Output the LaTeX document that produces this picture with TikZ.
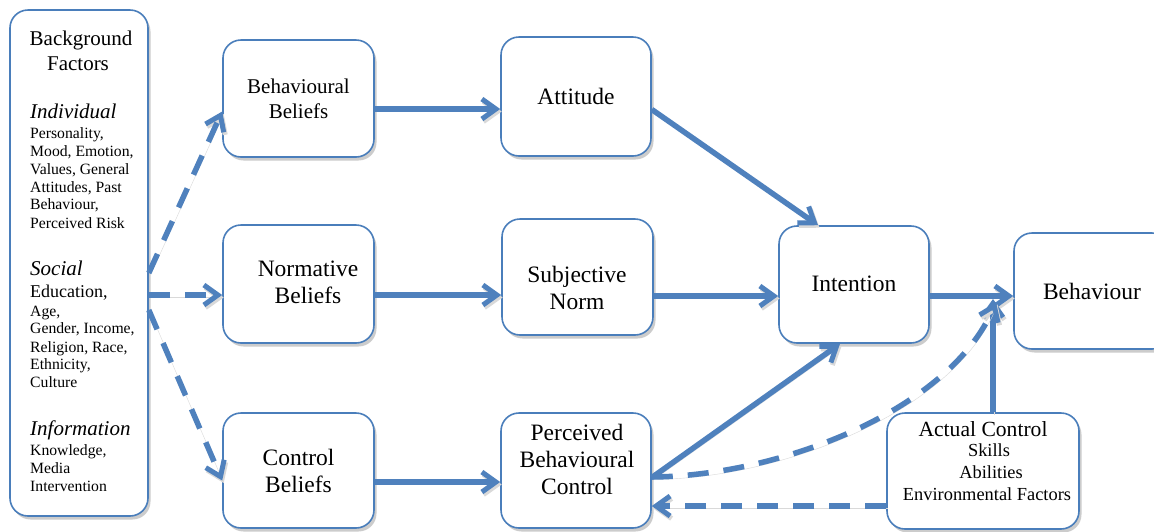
\documentclass[tikz,border=0pt]{standalone}
\usepackage{fontspec}
\setmainfont{Liberation Serif}
\usetikzlibrary{arrows.meta,shadows}
\definecolor{boxblue}{HTML}{4A7EBB}
\definecolor{arrblue}{HTML}{4F81BD}
\begin{document}
\begin{tikzpicture}[x=1pt,y=-1pt,
  box/.style={draw=boxblue, line width=1.6pt, rounded corners=18pt, fill=white,
    drop shadow={shadow xshift=2.5pt, shadow yshift=-3.5pt, fill=black!20, opacity=1},
    align=center, inner sep=0pt},
  big/.style={font=\fontsize{23.5}{27}\selectfont},
  mid/.style={font=\fontsize{21}{25}\selectfont},
  small/.style={font=\fontsize{15.7}{18}\selectfont},
  bgline/.style={anchor=base west, inner sep=0pt, small},
  conn/.style={draw=arrblue, line width=5.5pt,
    -{Straight Barb[length=14pt,width=20pt,line width=5pt]},
    preaction={draw=black!15, transform canvas={xshift=1.5pt,yshift=-2.5pt}}},
  dconn/.style={conn, dash pattern=on 21pt off 15pt},
]
\fill[white] (0,0) rectangle (1154,531);
\useasboundingbox (0,0) rectangle (1154,531);

% boxes
\node[box, minimum width=138pt, minimum height=506pt] (bg) at (79,263) {};
\node[box, mid, minimum width=151pt, minimum height=117pt] (bb) at (298.5,98.5) {Behavioural\\Beliefs};
\node[box, big, minimum width=150pt, minimum height=119pt] (att) at (576,96.5) {Attitude};
\node[box, minimum width=151pt, minimum height=118pt] (nb) at (298.5,284) {};
\node[box, minimum width=151pt, minimum height=116pt] (sn) at (577.5,277) {};
\node[box, big, minimum width=151pt, minimum height=115pt] (cb) at (298.5,470.5) {Control\\Beliefs};
\node[box, minimum width=150pt, minimum height=115pt] (pbc) at (576,470.5) {};
\node[box, big, minimum width=150pt, minimum height=117pt] (int) at (854,284.5) {\raisebox{2pt}{Intention}};
\node[box, big, minimum width=156pt, minimum height=116pt] (beh) at (1092,291) {Behaviour};
\node[box, minimum width=192pt, minimum height=116pt] (ac) at (983,471) {};

% texts placed inside boxes
\node[big, align=center, inner sep=0pt] (nbt) at (308,282) {Normative\\Beliefs};
\node[big, align=center, inner sep=0pt] (snt) at (577,288) {Subjective\\Norm};
\node[big, align=center, inner sep=0pt] (pbct) at (577,459) {Perceived\\Behavioural\\Control};
\node[font=\fontsize{21.6}{25}\selectfont, inner sep=0pt] (act1) at (983,429) {Actual Control};
\node[font=\fontsize{18.4}{22}\selectfont, inner sep=0pt] (act2) at (989,450) {Skills};
\node[font=\fontsize{18.4}{22}\selectfont, inner sep=0pt] (act3) at (991,472) {Abilities};
\node[font=\fontsize{18.4}{22}\selectfont, inner sep=0pt] (act4) at (987,494) {Environmental Factors};

% background factors text
\node[mid, anchor=base, inner sep=0pt] (bgt1) at (81,45) {Background};
\node[mid, anchor=base, inner sep=0pt] (bgt2) at (78,70) {Factors};
\node[bgline, font=\fontsize{21}{25}\selectfont\itshape] (bgi) at (30,118) {Individual};
\node[bgline] (bgi1) at (30,138) {Personality,};
\node[bgline] (bgi2) at (30,156) {Mood, Emotion,};
\node[bgline] (bgi3) at (30,174) {Values, General};
\node[bgline] (bgi4) at (30,192) {Attitudes, Past};
\node[bgline] (bgi5) at (30,209) {Behaviour,};
\node[bgline] (bgi6) at (30,228) {Perceived Risk};
\node[bgline, font=\fontsize{21}{25}\selectfont\itshape] (bgs) at (30,275) {Social};
\node[bgline, font=\fontsize{18}{21}\selectfont] (bgs1) at (30,297) {Education,};
\node[bgline] (bgs2) at (30,316) {Age,};
\node[bgline] (bgs3) at (30,333) {Gender, Income,};
\node[bgline] (bgs4) at (30,352) {Religion, Race,};
\node[bgline] (bgs5) at (30,369) {Ethnicity,};
\node[bgline] (bgs6) at (30,387) {Culture};
\node[bgline, font=\fontsize{21}{25}\selectfont\itshape] (bgn) at (30,435) {Information};
\node[bgline] (bgn1) at (30,455) {Knowledge,};
\node[bgline] (bgn2) at (30,473) {Media};
\node[bgline] (bgn3) at (30,491) {Intervention};

% coordinates for free ends
\coordinate (j) at (993,299);
\coordinate (j2) at (996,302);

% solid connectors
\draw[conn] ([yshift=-10.5pt]bb.east) -- ([yshift=-12.5pt]att.west);
\draw[conn] ([yshift=-13pt]att.east) -- ([xshift=-36pt]int.north);
\draw[conn] ([yshift=-11pt]nb.east) -- ([yshift=-18pt]sn.west);
\draw[conn] ([yshift=-19pt]sn.east) -- ([yshift=-11.5pt]int.west);
\draw[conn] ([yshift=-11.5pt]int.east) -- ([yshift=-5pt]beh.west);
\draw[conn] ([yshift=-11.5pt]cb.east) -- ([yshift=-11.5pt]pbc.west);
\draw[conn] ([yshift=-7pt]pbc.east) -- ([xshift=-14pt]int.south);
\draw[conn] ([xshift=10pt]ac.north) -- (j);

% dashed connectors
\draw[dconn] ([yshift=-6.5pt]pbc.east) .. controls (780,476) and (950,410) .. (j2);
\draw[dconn] ([yshift=-35pt]ac.west) -- ([yshift=-35.5pt]pbc.east);
\draw[dconn] ([yshift=-10pt]bg.east) -- ([yshift=-13pt]bb.west);
\draw[dconn] ([yshift=-32pt]bg.east) -- ([yshift=-11pt]nb.west);
\draw[dconn] ([yshift=-47pt]bg.east) -- ([yshift=-10pt]cb.west);
\end{tikzpicture}
\end{document}
